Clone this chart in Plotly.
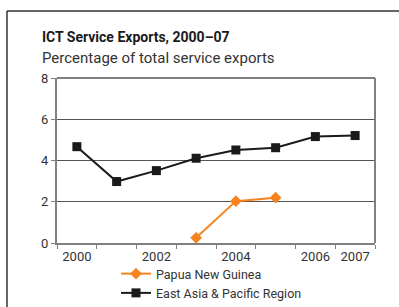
import plotly.graph_objects as go

years = ["2000", "2001", "2002", "2003", "2004", "2005", "2006", "2007"]
tick_labels = ["2000", "", "2002", "", "2004", "", "2006", "2007"]
png = [None, None, None, 0.25, 2.03, 2.2, None, None]
eap = [4.67, 2.98, 3.51, 4.11, 4.51, 4.62, 5.16, 5.21]

FONT = "Roboto, 'Liberation Sans Narrow', sans-serif"
W, H = 399, 307
L, R, T, B = 57, 24, 78, 64
PW, PH = W - L - R, H - T - B

def px(x):
    return (x - L) / PW

def py(y):
    return (H - B - y) / PH

fig = go.Figure()
fig.add_trace(go.Scatter(
    x=years, y=png, name="Papua New Guinea", mode="lines+markers",
    line=dict(color="#F7821E", width=2),
    marker=dict(symbol="diamond", size=9, color="#F7821E"),
    connectgaps=False,
))
fig.add_trace(go.Scatter(
    x=years, y=eap, name="East Asia & Pacific Region", mode="lines+markers",
    line=dict(color="#1a1a1a", width=2),
    marker=dict(symbol="square", size=9, color="#1a1a1a"),
))

fig.update_layout(
    width=W, height=H,
    margin=dict(l=L, r=R, t=T, b=B, autoexpand=False),
    paper_bgcolor="white", plot_bgcolor="white",
    font=dict(family=FONT, size=13, color="#333333"),
    showlegend=True,
    legend=dict(
        x=px(116), xref="paper", y=(H - 259) / H, yref="container",
        xanchor="left", yanchor="top",
        bgcolor="rgba(0,0,0,0)", font=dict(size=12.5, color="#333333"),
        itemwidth=30, tracegroupgap=0,
    ),
    xaxis=dict(
        type="category", categoryorder="array", categoryarray=years,
        tickmode="array", tickvals=years, ticktext=tick_labels,
        tickson="boundaries", ticks="outside", ticklen=4, tickcolor="#808080",
        showgrid=False, showline=True, linecolor="#808080", linewidth=2,
        mirror=False, range=[-0.5, 7.5], tickfont=dict(size=13, color="#333333"),
        zeroline=False,
    ),
    yaxis=dict(
        range=[0, 8], tickvals=[0, 2, 4, 6, 8], ticks="outside", ticklen=4,
        tickcolor="#808080", showgrid=True, gridcolor="#555555", gridwidth=1,
        showline=True, linecolor="#808080", linewidth=2, zeroline=False,
        tickfont=dict(size=13, color="#333333"),
    ),
    shapes=[
        dict(type="line", xref="paper", yref="paper", x0=0, x1=1, y0=1, y1=1,
             line=dict(color="#808080", width=2)),
        dict(type="line", xref="paper", yref="paper", x0=1, x1=1, y0=0, y1=1,
             line=dict(color="#808080", width=2)),
        dict(type="line", xref="paper", yref="paper", x0=px(7), x1=px(7),
             y0=py(11), y1=py(320), line=dict(color="#333333", width=1.5)),
        dict(type="line", xref="paper", yref="paper", x0=px(7), x1=px(410),
             y0=py(11), y1=py(11), line=dict(color="#333333", width=1.5)),
    ],
    annotations=[
        dict(text="<b>ICT Service Exports, 2000–07</b>", xref="paper", yref="paper",
             x=px(40), y=py(37), xanchor="left", yanchor="middle", showarrow=False,
             font=dict(size=14, color="#1a1a1a", family=FONT)),
        dict(text="Percentage of total service exports", xref="paper", yref="paper",
             x=px(40), y=py(58), xanchor="left", yanchor="middle", showarrow=False,
             font=dict(size=15, color="#333333", family=FONT)),
    ],
)

fig.write_html("out.html", config={"displayModeBar": False},
               post_script="document.body.style.margin='0';")
